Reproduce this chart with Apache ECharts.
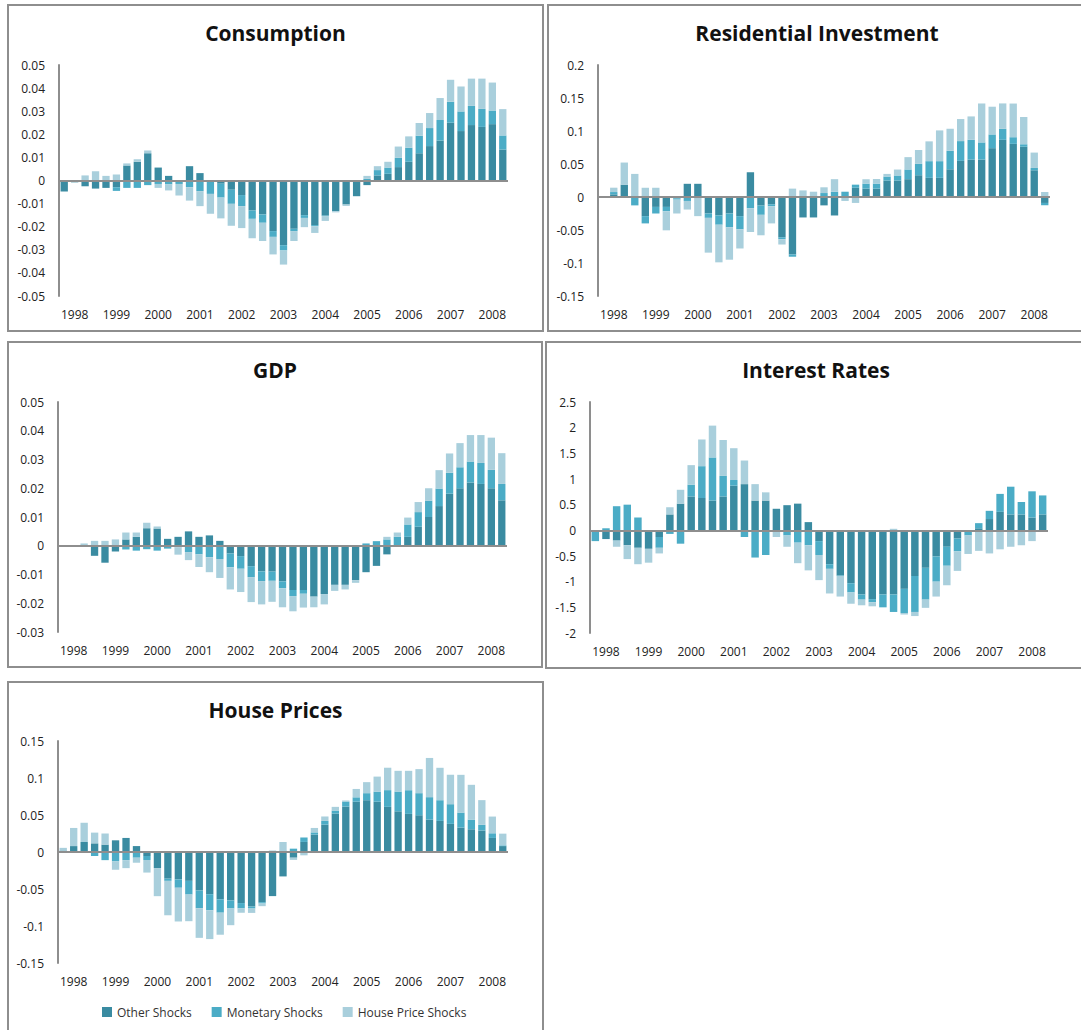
<!DOCTYPE html>
<html>
<head>
<meta charset="utf-8">
<script src="https://cdn.jsdelivr.net/npm/echarts@6/dist/echarts.min.js"></script>
<style>
html, body { margin: 0; padding: 0; background: #fff; }
#chart { width: 1081px; height: 1030px; }
</style>
</head>
<body>
<div id="chart"></div>
<script>
// tick labels on the category axis
const years = ['1998', '1999', '2000', '2001', '2002', '2003', '2004', '2005', '2006', '2007', '2008'];
const seriesNames = ['Other Shocks', 'Monetary Shocks', 'House Price Shocks'];

// Consumption
const consOther = [-0.0048, -0.0008, -0.0025, -0.0035, -0.0032, -0.0029, 0.0065, 0.0081, 0.0118, 0.0056, 0.0020, -0.0003, 0.0062, 0.0032, -0.0005, -0.0014, -0.0040, -0.0063, -0.0130, -0.0147, -0.0219, -0.0280, -0.0209, -0.0150, -0.0193, -0.0152, -0.0133, -0.0104, -0.0068, -0.0020, 0.0022, 0.0029, 0.0058, 0.0081, 0.0118, 0.0149, 0.0173, 0.0250, 0.0214, 0.0240, 0.0232, 0.0244, 0.0134];
const consMon = [0, 0, 0, 0, 0, -0.0016, -0.0032, -0.0032, -0.0020, -0.0015, -0.0017, -0.0012, -0.0029, -0.0046, -0.0053, -0.0060, -0.0061, -0.0048, -0.0036, -0.0036, -0.0025, -0.0023, -0.0010, -0.0012, -0.0005, -0.0002, 0, 0, 0, 0.0007, 0.0023, 0.0027, 0.0040, 0.0061, 0.0076, 0.0078, 0.0089, 0.0091, 0.0085, 0.0083, 0.0078, 0.0059, 0.0061];
const consHouse = [0, 0, 0.0022, 0.0040, 0.0020, 0.0026, 0.0009, 0.0011, 0.0012, -0.0017, -0.0026, -0.0050, -0.0058, -0.0065, -0.0086, -0.0090, -0.0095, -0.0095, -0.0084, -0.0079, -0.0076, -0.0061, -0.0043, -0.0040, -0.0029, -0.0021, -0.0005, -0.0006, 0, 0.0013, 0.0017, 0.0025, 0.0049, 0.0049, 0.0055, 0.0065, 0.0095, 0.0095, 0.0108, 0.0118, 0.0131, 0.0121, 0.0114];

// Residential Investment
const resOther = [0, 0.0040, 0.0187, 0, -0.0290, -0.0150, -0.0150, -0.0020, 0.0200, 0.0200, -0.0250, -0.0280, -0.0250, -0.0290, 0.0375, -0.0130, -0.0110, -0.0610, -0.0870, -0.0310, -0.0310, -0.0127, -0.0280, 0, 0.0140, 0.0127, 0.0127, 0.0250, 0.0250, 0.0270, 0.0330, 0.0290, 0.0290, 0.0420, 0.0547, 0.0567, 0.0567, 0.0740, 0.0866, 0.0805, 0.0760, 0.0405, -0.0090];
const resMon = [0, 0.0035, 0, -0.0127, -0.0110, -0.0100, -0.0066, -0.0020, -0.0060, 0, -0.0066, -0.0140, -0.0210, -0.0200, -0.0170, -0.0140, -0.0030, -0.0030, -0.0035, 0, 0, 0.0060, 0.0080, 0.0080, 0.0047, 0.0076, 0.0076, 0.0060, 0.0076, 0.0147, 0.0172, 0.0253, 0.0253, 0.0280, 0.0300, 0.0300, 0.0260, 0.0208, 0.0167, 0.0101, 0.0040, 0.0035, -0.0035];
const resHouse = [0, 0.0066, 0.0335, 0.0350, 0.0140, 0.0140, -0.0289, -0.0210, -0.0130, -0.0290, -0.0527, -0.0570, -0.0490, -0.0290, -0.0360, -0.0310, -0.0260, -0.0080, 0.0127, 0.0100, 0.0080, 0.0087, 0.0190, -0.0060, -0.0090, 0.0066, 0.0070, 0.0040, 0.0090, 0.0187, 0.0210, 0.0300, 0.0466, 0.0334, 0.0334, 0.0354, 0.0590, 0.0420, 0.0385, 0.0510, 0.0413, 0.0233, 0.0076];

// GDP
const gdpOther = [0, 0, 0, -0.0035, -0.0059, -0.0020, 0.0022, 0.0031, 0.0061, 0.0060, 0.0024, 0.0031, 0.0050, 0.0031, 0.0036, 0.0017, -0.0027, -0.0036, -0.0071, -0.0089, -0.0090, -0.0124, -0.0154, -0.0154, -0.0177, -0.0168, -0.0136, -0.0136, -0.0120, -0.0092, -0.0070, -0.0030, 0, 0.0031, 0.0066, 0.0100, 0.0138, 0.0181, 0.0200, 0.0220, 0.0215, 0.0200, 0.0158];
const gdpMon = [0, 0, 0, 0, 0, 0, -0.0013, -0.0017, -0.0012, -0.0017, -0.0010, -0.0005, -0.0022, -0.0030, -0.0040, -0.0046, -0.0048, -0.0044, -0.0038, -0.0034, -0.0032, -0.0024, -0.0021, -0.0013, 0, 0, 0, 0, 0, 0.0008, 0.0016, 0.0022, 0.0031, 0.0043, 0.0051, 0.0057, 0.0061, 0.0073, 0.0073, 0.0073, 0.0073, 0.0064, 0.0057];
const gdpHouse = [0, 0, 0.0008, 0.0017, 0.0017, 0.0022, 0.0024, 0.0015, 0.0019, 0.0007, 0, -0.0026, -0.0028, -0.0044, -0.0052, -0.0066, -0.0077, -0.0081, -0.0087, -0.0081, -0.0073, -0.0066, -0.0053, -0.0048, -0.0037, -0.0036, -0.0021, -0.0016, -0.0009, 0, 0, 0.0009, 0.0015, 0.0024, 0.0035, 0.0043, 0.0064, 0.0067, 0.0084, 0.0092, 0.0097, 0.0112, 0.0107];

// Interest Rates
const rateOther = [-0.02, -0.17, -0.20, -0.29, -0.34, -0.36, -0.13, 0.31, 0.52, 0.66, 0.63, 0.58, 0.66, 0.87, 0.90, 0.58, 0.58, 0.42, 0.49, 0.52, 0.16, -0.21, -0.66, -0.88, -1.03, -1.25, -1.34, -1.25, -1.25, -1.14, -0.89, -0.73, -0.51, -0.32, -0.16, -0.03, 0.04, 0.22, 0.36, 0.31, 0.31, 0.25, 0.31];
const rateMon = [-0.19, 0.04, 0.47, 0.50, 0.25, 0, -0.21, -0.07, -0.26, 0.23, 0.62, 0.84, 0.40, 0.11, -0.13, -0.53, -0.48, -0.03, -0.10, -0.24, -0.29, -0.27, -0.09, -0.01, -0.18, -0.10, -0.06, -0.25, -0.34, -0.47, -0.70, -0.62, -0.49, -0.37, -0.25, -0.07, 0.10, 0.16, 0.35, 0.54, 0.24, 0.51, 0.37];
const rateHouse = [0, 0, -0.12, -0.27, -0.32, -0.27, -0.11, 0.14, 0.27, 0.38, 0.52, 0.62, 0.70, 0.62, 0.46, 0.32, 0.16, -0.10, -0.22, -0.40, -0.49, -0.49, -0.48, -0.40, -0.22, -0.11, -0.08, 0, 0.03, -0.03, -0.08, -0.16, -0.29, -0.38, -0.38, -0.36, -0.40, -0.45, -0.37, -0.32, -0.29, -0.21, 0];

// House Prices
const hpOther = [0.0020, 0.0080, 0.0135, 0.0117, 0.0100, 0.0158, 0.0190, 0.0080, -0.0054, -0.0217, -0.0360, -0.0370, -0.0390, -0.0520, -0.0570, -0.0640, -0.0655, -0.0690, -0.0737, -0.0678, -0.0596, -0.0330, -0.0077, 0.0136, 0.0235, 0.0370, 0.0520, 0.0614, 0.0680, 0.0700, 0.0680, 0.0610, 0.0550, 0.0515, 0.0497, 0.0438, 0.0420, 0.0380, 0.0330, 0.0307, 0.0290, 0.0190, 0.0080];
const hpMon = [0, 0, 0, -0.0054, -0.0110, -0.0127, -0.0110, -0.0077, -0.0054, 0, -0.0030, -0.0113, -0.0185, -0.0240, -0.0217, -0.0180, -0.0108, -0.0072, -0.0027, -0.0018, 0, 0.0020, 0.0045, 0.0060, 0.0030, 0.0050, 0.0040, 0.0068, 0.0059, 0.0095, 0.0136, 0.0226, 0.0267, 0.0320, 0.0298, 0.0303, 0.0280, 0.0266, 0.0203, 0.0131, 0.0077, 0.0063, 0.0010];
const hpHouse = [0.0036, 0.0245, 0.0260, 0.0145, 0.0150, -0.0113, -0.0108, -0.0068, -0.0170, -0.0380, -0.0465, -0.0456, -0.0360, -0.0400, -0.0390, -0.0298, -0.0226, -0.0059, -0.0059, -0.0036, 0.0020, 0.0115, -0.0030, -0.0045, 0.0060, 0.0060, 0.0050, 0.0014, 0.0113, 0.0149, 0.0203, 0.0303, 0.0280, 0.0262, 0.0325, 0.0530, 0.0438, 0.0398, 0.0510, 0.0470, 0.0334, 0.0226, 0.0158];

// quarterly categories 1998Q1 .. 2008Q3
const quarters = [];
years.forEach(y => ['Q1', 'Q2', 'Q3', 'Q4'].forEach(q => quarters.push(y + q)));
quarters.length = consOther.length;

const colors = ['#3a8ba1', '#4bacc6', '#a9cfdc'];
const frameColor = '#8e8e8e';
const font = '"Open Sans", "Liberation Sans", sans-serif';

const panels = [
  { title: 'Consumption', frame: [8, 5, 535, 326], grid: [59, 65, 449, 231], min: -0.05, max: 0.05, step: 0.01, data: [consOther, consMon, consHouse] },
  { title: 'Residential Investment', frame: [548, 5, 538, 326], grid: [598, 65, 452, 231], min: -0.15, max: 0.2, step: 0.05, data: [resOther, resMon, resHouse] },
  { title: 'GDP', frame: [8, 342, 534, 325], grid: [58, 402, 449, 230], min: -0.03, max: 0.05, step: 0.01, data: [gdpOther, gdpMon, gdpHouse] },
  { title: 'Interest Rates', frame: [546, 342, 540, 326], grid: [590, 402, 458, 231], min: -2, max: 2.5, step: 0.5, data: [rateOther, rateMon, rateHouse] },
  { title: 'House Prices', frame: [8, 682, 535, 360], grid: [58, 741, 450, 222], min: -0.15, max: 0.15, step: 0.05, data: [hpOther, hpMon, hpHouse] }
];

const option = {
  animation: false,
  backgroundColor: '#fff',
  title: [],
  grid: [],
  xAxis: [],
  yAxis: [],
  series: [],
  graphic: [],
  legend: {
    data: seriesNames,
    left: 97,
    top: 1001,
    icon: 'rect',
    itemWidth: 10,
    itemHeight: 10,
    itemGap: 20,
    textStyle: { fontFamily: font, fontSize: 12, color: '#333' }
  }
};

panels.forEach((p, i) => {
  const f = p.frame;
  option.graphic.push({
    type: 'rect',
    silent: true,
    shape: { x: f[0], y: f[1], width: f[2], height: f[3] },
    style: { fill: 'none', stroke: frameColor, lineWidth: 2 }
  });
  option.title.push({
    text: p.title,
    left: f[0] + f[2] / 2,
    top: f[1] + 17,
    textAlign: 'center',
    padding: 0,
    textStyle: { fontFamily: font, fontSize: 21, fontWeight: 'bold', color: '#111' }
  });
  option.grid.push({ left: p.grid[0], top: p.grid[1], width: p.grid[2], height: p.grid[3] });
  option.xAxis.push({
    type: 'category',
    gridIndex: i,
    data: quarters,
    axisLine: { show: false, onZero: false },
    axisTick: { show: false },
    axisLabel: {
      interval: idx => idx % 4 === 1,
      formatter: v => v.slice(0, 4),
      margin: 12,
      fontFamily: font,
      fontSize: 12,
      color: '#222'
    }
  });
  option.yAxis.push({
    type: 'value',
    gridIndex: i,
    min: p.min,
    max: p.max,
    interval: p.step,
    axisLine: { show: true, lineStyle: { color: frameColor, width: 2 } },
    axisTick: { show: false },
    splitLine: { show: false },
    axisLabel: { margin: 14, fontFamily: font, fontSize: 12, color: '#222' }
  });
  p.data.forEach((d, k) => {
    const s = {
      name: seriesNames[k],
      type: 'bar',
      xAxisIndex: i,
      yAxisIndex: i,
      stack: 'panel' + i,
      barCategoryGap: '30%',
      data: d,
      itemStyle: { color: colors[k] }
    };
    if (k === 0) {
      s.markLine = {
        silent: true,
        symbol: 'none',
        label: { show: false },
        lineStyle: { color: frameColor, width: 2, type: 'solid' },
        data: [{ yAxis: 0 }]
      };
    }
    option.series.push(s);
  });
});

const chart = echarts.init(document.getElementById('chart'), null, { renderer: 'svg' });
chart.setOption(option);
</script>
</body>
</html>
